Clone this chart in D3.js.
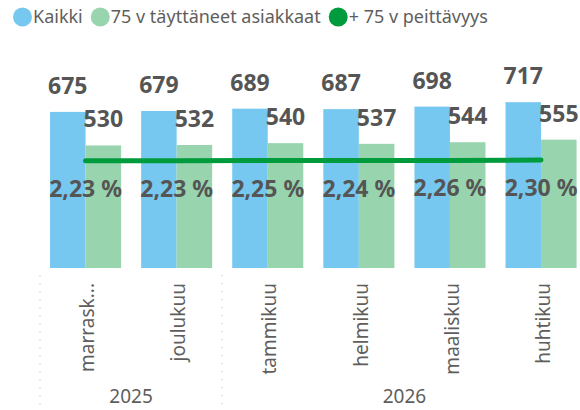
<!DOCTYPE html>
<html>
<head>
<meta charset="utf-8">
<script src="https://cdn.jsdelivr.net/npm/d3@7"></script>
<style>
  body { margin: 0; background: #fff; }
  svg { display: block; font-family: "Noto Sans", "Open Sans", sans-serif; }
</style>
</head>
<body>
<script>
const width = 580;
const height = 410;

// data
const months = ["marrask...", "joulukuu", "tammikuu", "helmikuu", "maaliskuu", "huhtikuu"];
const years = ["2025", "2025", "2026", "2026", "2026", "2026"];
const kaikki = [675, 679, 689, 687, 698, 717];
const yli75 = [530, 532, 540, 537, 544, 555];
const peittavyys = [2.23, 2.23, 2.25, 2.24, 2.26, 2.30];

const seriesNames = ["Kaikki", "75 v täyttäneet asiakkaat", "+ 75 v peittävyys"];
const colors = ["#77C8F1", "#98D5AE", "#009B3C"];

const svg = d3.select("body").append("svg")
  .attr("width", width)
  .attr("height", height);

const x = d3.scaleBand()
  .domain(months)
  .range([40, 586.6])
  .paddingInner(0.22)
  .paddingOuter(0.11);

const xs = d3.scaleBand()
  .domain([0, 1])
  .range([0, x.bandwidth()]);

const y = d3.scaleLinear()
  .domain([0, 800])
  .range([268, 83]);

// secondary axis for the coverage line
const y2 = d3.scaleLinear()
  .domain([-8.5, 11.5])
  .range([268, 68]);

// legend
const legend = svg.append("g").attr("transform", "translate(13,17)");
let lx = 0;
seriesNames.forEach((name, i) => {
  legend.append("circle")
    .attr("cx", lx + 9.5)
    .attr("cy", 0)
    .attr("r", 9.5)
    .attr("fill", colors[i]);
  const t = legend.append("text")
    .attr("x", lx + 20)
    .attr("y", 0)
    .attr("dy", "0.35em")
    .attr("fill", "#605E5C")
    .style("font-size", "18px")
    .text(name);
  lx += 20 + t.node().getComputedTextLength() + 8;
});

// year separators (dotted)
const step = x.step();
const sepX = [];
years.forEach((yr, i) => {
  if (i === 0 || yr !== years[i - 1]) sepX.push(x(months[i]) - step * x.paddingInner() / 2);
});
svg.selectAll(".sep")
  .data(sepX)
  .enter().append("line")
    .attr("x1", d => d).attr("x2", d => d)
    .attr("y1", 275).attr("y2", height)
    .attr("stroke", "#c8c8c8")
    .attr("stroke-width", 1.2)
    .attr("stroke-dasharray", "1.2,6.8");

// bars
const groups = svg.selectAll(".grp")
  .data(months)
  .enter().append("g")
    .attr("transform", d => `translate(${x(d)},0)`);

groups.append("rect")
  .attr("x", xs(0))
  .attr("width", xs.bandwidth())
  .attr("y", (d, i) => y(kaikki[i]))
  .attr("height", (d, i) => y(0) - y(kaikki[i]))
  .attr("fill", colors[0]);

groups.append("rect")
  .attr("x", xs(1))
  .attr("width", xs.bandwidth())
  .attr("y", (d, i) => y(yli75[i]))
  .attr("height", (d, i) => y(0) - y(yli75[i]))
  .attr("fill", colors[1]);

// line
const line = d3.line()
  .x((d, i) => x(months[i]) + x.bandwidth() / 2)
  .y(d => y2(d));

svg.append("path")
  .datum(peittavyys)
  .attr("d", line)
  .attr("fill", "none")
  .attr("stroke", colors[2])
  .attr("stroke-width", 5)
  .attr("stroke-linecap", "round");

// data labels
const labelStyle = sel => sel
  .attr("text-anchor", "middle")
  .attr("fill", "#555555")
  .style("font-size", "23px")
  .style("font-weight", "bold");

groups.append("text")
  .attr("x", xs(0) + xs.bandwidth() / 2)
  .attr("y", (d, i) => y(kaikki[i]) - 18)
  .text((d, i) => kaikki[i])
  .call(labelStyle);

groups.append("text")
  .attr("x", xs(1) + xs.bandwidth() / 2)
  .attr("y", (d, i) => y(yli75[i]) - 18)
  .text((d, i) => yli75[i])
  .call(labelStyle);

groups.append("text")
  .attr("x", x.bandwidth() / 2)
  .attr("y", (d, i) => y2(peittavyys[i]) + 36)
  .text((d, i) => peittavyys[i].toFixed(2).replace(".", ",") + " %")
  .call(labelStyle);

// month labels
svg.selectAll(".month")
  .data(months)
  .enter().append("text")
    .attr("transform", d => `translate(${x(d) + x.bandwidth() / 2 + 2},283) rotate(-90)`)
    .attr("text-anchor", "end")
    .attr("dy", "0.35em")
    .attr("fill", "#605E5C")
    .style("font-size", "19px")
    .text(d => d);

// year labels
const yearGroups = d3.groups(months.map((m, i) => ({ m, yr: years[i] })), d => d.yr);
yearGroups.forEach(([yr, items]) => {
  const x0 = x(items[0].m) - step * x.paddingInner() / 2;
  const x1 = x(items[items.length - 1].m) + x.bandwidth() + step * x.paddingInner() / 2;
  svg.append("text")
    .attr("x", (x0 + x1) / 2)
    .attr("y", 403)
    .attr("text-anchor", "middle")
    .attr("fill", "#605E5C")
    .style("font-size", "19px")
    .text(yr);
});
</script>
</body>
</html>
